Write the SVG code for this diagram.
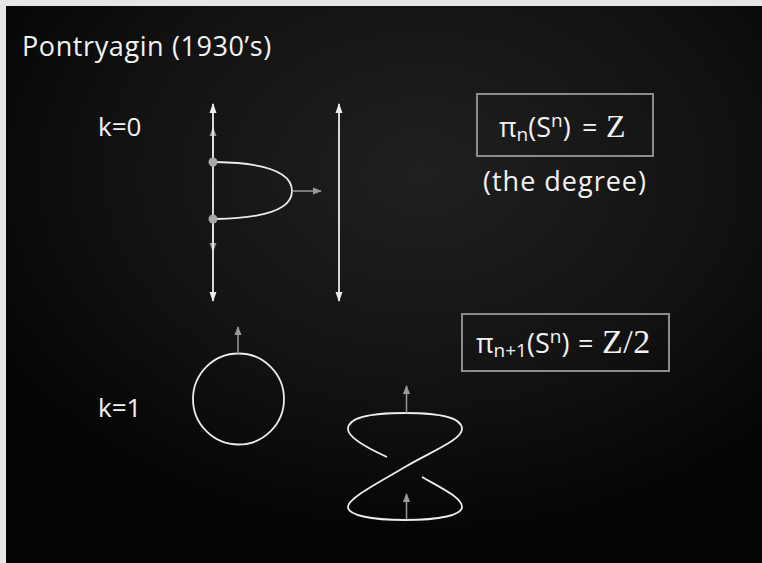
<svg xmlns="http://www.w3.org/2000/svg" width="762" height="563" viewBox="0 0 762 563">
<style>
.t{font-family:"Open Sans","Liberation Sans",sans-serif;fill:#f2f2f2;}
.z{font-family:"Liberation Serif",serif;fill:#f2f2f2;}
.w{stroke:#ececec;stroke-width:1.8;fill:none;}
.g{stroke:#9a9a9a;stroke-width:1.5;fill:none;}
.box{stroke:#8c8c8c;stroke-width:2;fill:none;}
</style>
<defs>
<radialGradient id="bg" cx="0.55" cy="0.3" r="0.65">
<stop offset="0" stop-color="#202020"/>
<stop offset="0.6" stop-color="#121212"/>
<stop offset="1" stop-color="#050505"/>
</radialGradient>
<marker id="ga" viewBox="0 0 10 10" refX="9" refY="5" markerWidth="9" markerHeight="9" orient="auto" markerUnits="userSpaceOnUse">
<path d="M0,1 L10,5 L0,9 z" fill="#9a9a9a"/>
</marker>
<marker id="wb" viewBox="0 0 10 10" refX="9" refY="5" markerWidth="10" markerHeight="10" orient="auto-start-reverse" markerUnits="userSpaceOnUse">
<path d="M0,1.5 L10,5 L0,8.5 z" fill="#ececec"/>
</marker>
</defs>
<rect x="0" y="0" width="762" height="563" fill="#e6e6e6"/>
<rect x="6" y="6" width="756" height="557" fill="url(#bg)"/>

<g id="title"><text class="t" x="22" y="56" font-size="27" letter-spacing="0.6">Pontryagin (1930’s)</text></g>
<g id="label-k0"><text class="t" x="98" y="136" font-size="26">k=0</text></g>
<g id="label-k1"><text class="t" x="98" y="417" font-size="26">k=1</text></g>

<g id="box1">
<rect class="box" x="477" y="94" width="176" height="62"/>
<text class="t" x="499" y="137" font-size="27">π<tspan font-size="19" dy="4">n</tspan><tspan dy="-4">(S</tspan><tspan font-size="19" dy="-10">n</tspan><tspan dy="10">)</tspan><tspan x="582">=</tspan><tspan class="z" x="606" font-size="32" letter-spacing="1">Z</tspan></text>
</g>
<g id="degree"><text class="t" x="565" y="191" font-size="27" letter-spacing="1" text-anchor="middle">(the degree)</text></g>
<g id="box2">
<rect class="box" x="462" y="314" width="207" height="57"/>
<text class="t" x="476" y="353" font-size="27">π<tspan font-size="19" dy="4">n+1</tspan><tspan dy="-4">(S</tspan><tspan font-size="19" dy="-10">n</tspan><tspan dy="10">)</tspan><tspan x="578">=</tspan><tspan class="z" x="602" font-size="34" letter-spacing="0.5">Z/2</tspan></text>
</g>

<g id="connectors">
<line class="g" x1="213" y1="162" x2="213" y2="128" marker-end="url(#ga)"/>
<line class="g" x1="213" y1="219" x2="213" y2="251" marker-end="url(#ga)"/>
<line class="w" x1="213" y1="104" x2="213" y2="301" marker-start="url(#wb)" marker-end="url(#wb)"/>
<line class="w" x1="339" y1="104" x2="339" y2="301" marker-start="url(#wb)" marker-end="url(#wb)"/>
<path class="w" d="M216 162 C270 163 292 174 292 191 C292 207 270 218 216 219"/>
<line class="g" x1="292" y1="191" x2="321" y2="191" marker-end="url(#ga)"/>
<circle cx="213" cy="162" r="4.5" fill="#a8a8a8"/>
<circle cx="213" cy="219" r="4.5" fill="#a8a8a8"/>
</g>

<g id="circle">
<circle class="w" cx="238.5" cy="399" r="45.5"/>
<line class="g" x1="238" y1="354" x2="238" y2="327" marker-end="url(#ga)"/>
</g>

<g id="figure-eight">
<path class="w" d="M422 477 C445 490 462 498 462 507 C462 515 440 520 405 520 C370 520 348 515 348 507 C348 498 380 482 405 467 C430 452 462 440 462 429 C462 418 440 413 405 413 C370 413 348 418 348 429 C348 437 365 447 387 457"/>
<line class="g" x1="406.5" y1="413" x2="406.5" y2="386" marker-end="url(#ga)"/>
<line class="g" x1="406.5" y1="519" x2="406.5" y2="494" marker-end="url(#ga)"/>
</g>
</svg>
